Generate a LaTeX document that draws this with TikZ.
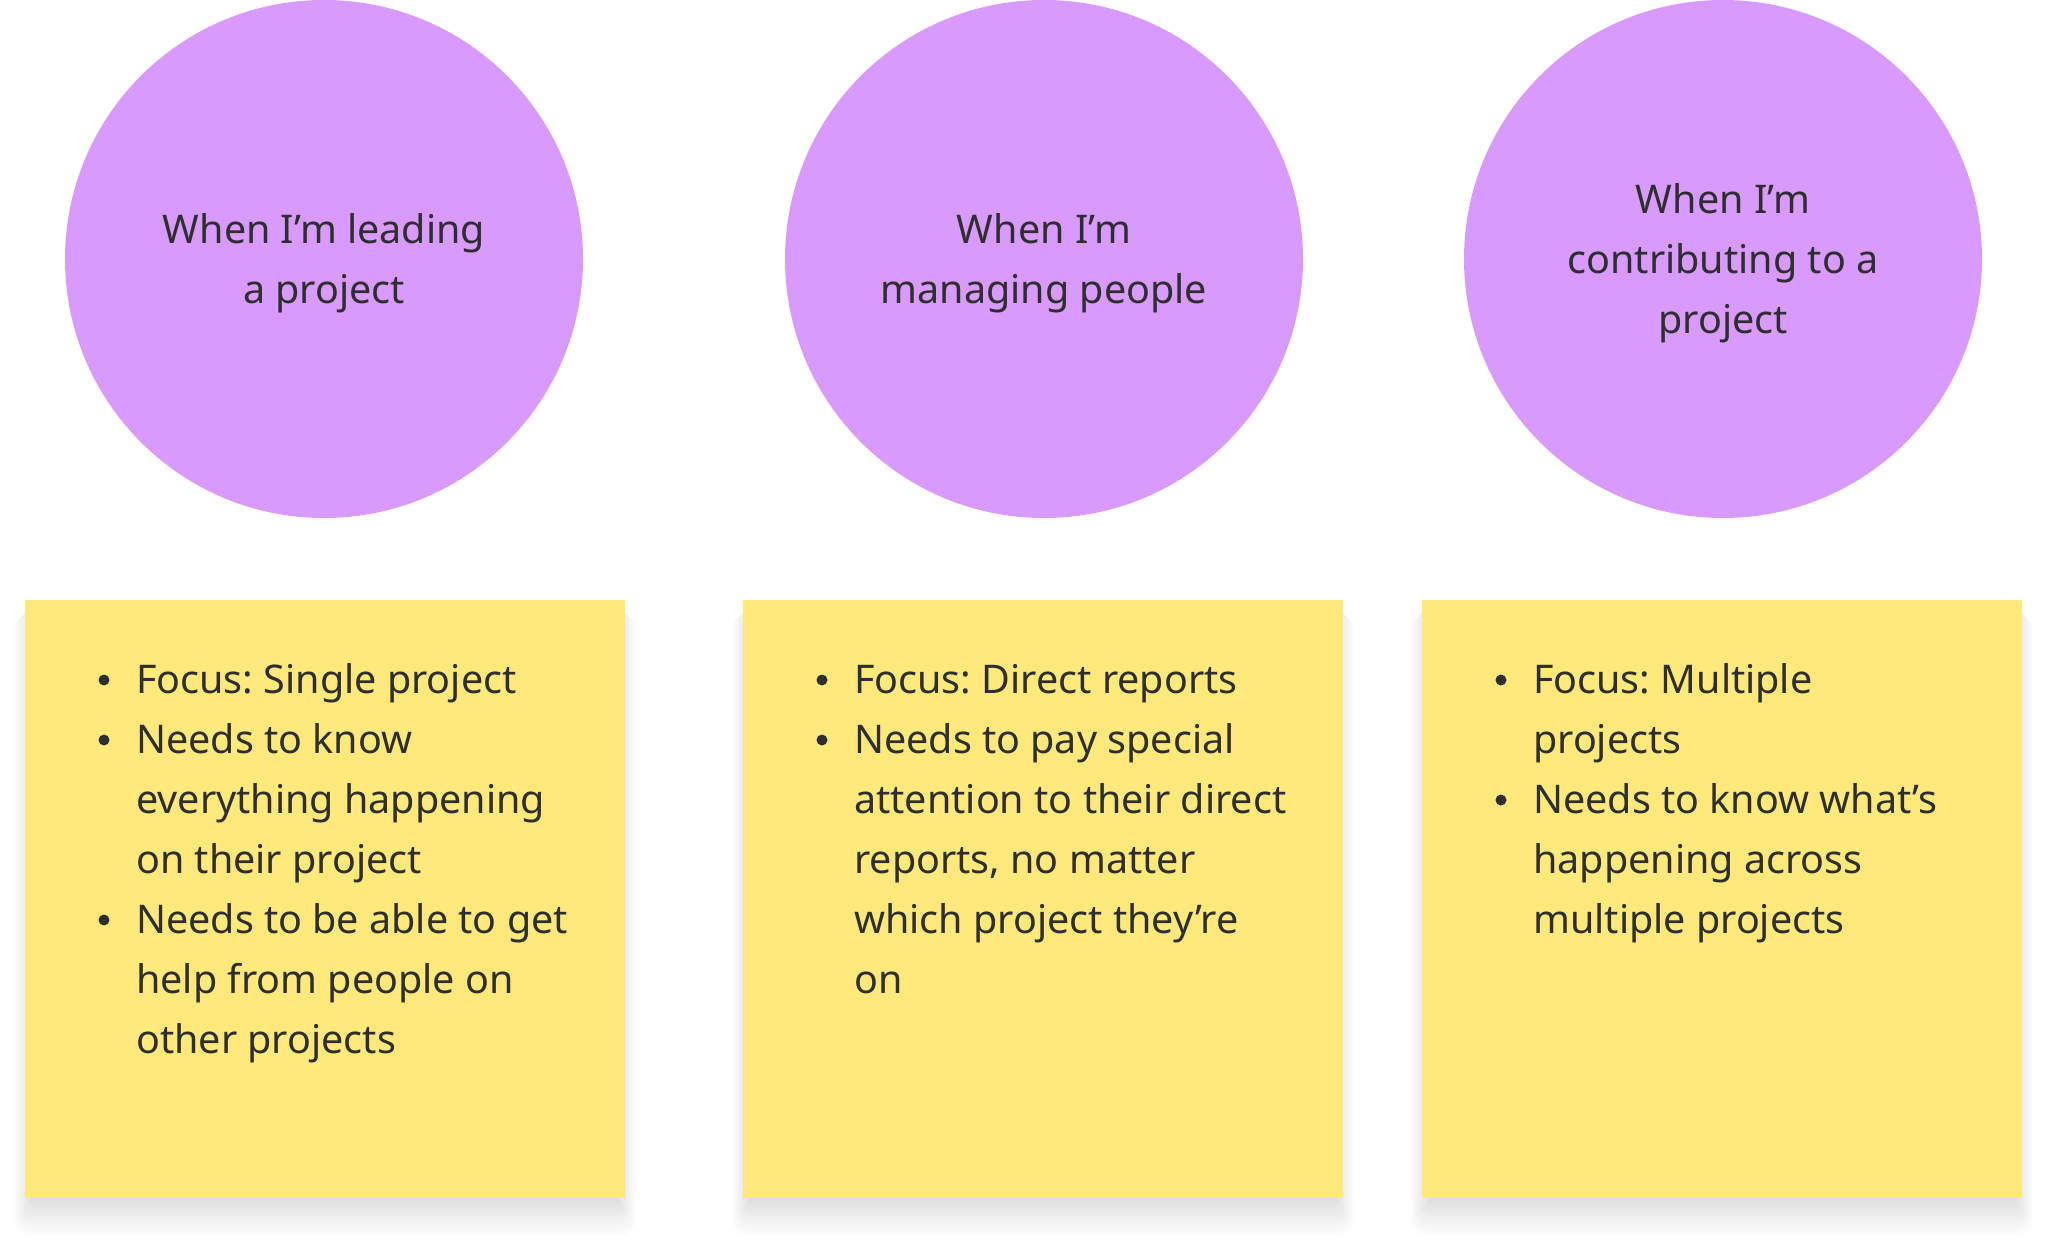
\documentclass[tikz,border=0pt]{standalone}
\usepackage{fontspec}
\setmainfont{Noto Sans}
\frenchspacing
\definecolor{violetc}{HTML}{D99AFE}
\definecolor{stickyc}{HTML}{FFE97B}
\definecolor{inkc}{HTML}{2E2E2E}
\begin{document}
\begin{tikzpicture}[x=1pt,y=-1pt,
  circ/.style={circle,fill=violetc,minimum size=518pt,inner sep=0pt},
  sticky/.style={fill=stickyc,minimum width=600pt,minimum height=598pt,inner sep=0pt,anchor=north west},
  txt/.style={font=\fontsize{39.5}{60}\selectfont\frenchspacing,text=inkc,inner sep=0pt},
  ln/.style={txt,anchor=base west},
  cl/.style={txt,anchor=base},
  dot/.style={circle,fill=inkc,minimum size=11pt,inner sep=0pt}]
\useasboundingbox (0,0) rectangle (2048,1244);
\fill[white] (0,0) rectangle (2048,1244);
% circles
\node[circ] (c1) at (324,259) {};
\node[circ] (c2) at (1044,259) {};
\node[circ] (c3) at (1723,259) {};
\node[cl] (c1a) at (324,243) {When I’m leading};
\node[cl] (c1b) at (324,303) {a project};
\node[cl] (c2a) at (1044,243) {When I’m};
\node[cl] (c2b) at (1044,303) {managing people};
\node[cl] (c3a) at (1723,213) {When I’m};
\node[cl] (c3b) at (1723,273) {contributing to a};
\node[cl] (c3c) at (1723,333) {project};
% shadows
\foreach \bx in {25,743,1422}{
  \foreach \i in {1,...,16}{
    \fill[black,opacity=0.008,rounded corners=\i pt] (\bx-1.2*\i+8,600+\i*0.5+6) rectangle (\bx+600+1.2*\i-8,1198+2.4*\i);
  }
}
% stickies
\node[sticky] (s1) at (25,600) {};
\node[sticky] (s2) at (743,600) {};
\node[sticky] (s3) at (1422,600) {};
% box 1
\node[dot] (b11) at (104,680) {};
\node[dot] (b12) at (104,740) {};
\node[dot] (b13) at (104,920) {};
\node[ln] (t10) at (136,693) {Focus: Single project};
\node[ln] (t11) at (136,753) {Needs to know};
\node[ln] (t12) at (136,813) {everything happening};
\node[ln] (t13) at (136,873) {on their project};
\node[ln] (t14) at (136,933) {Needs to be able to get};
\node[ln] (t15) at (136,993) {help from people on};
\node[ln] (t16) at (136,1053) {other projects};
% box 2
\node[dot] (b21) at (822,680) {};
\node[dot] (b22) at (822,740) {};
\node[ln] (t20) at (854,693) {Focus: Direct reports};
\node[ln] (t21) at (854,753) {Needs to pay special};
\node[ln] (t22) at (854,813) {attention to their direct};
\node[ln] (t23) at (854,873) {reports, no matter};
\node[ln] (t24) at (854,933) {which project they’re};
\node[ln] (t25) at (854,993) {on};
% box 3
\node[dot] (b31) at (1501,680) {};
\node[dot] (b32) at (1501,800) {};
\node[ln] (t30) at (1533,693) {Focus: Multiple};
\node[ln] (t31) at (1533,753) {projects};
\node[ln] (t32) at (1533,813) {Needs to know what’s};
\node[ln] (t33) at (1533,873) {happening across};
\node[ln] (t34) at (1533,933) {multiple projects};
\end{tikzpicture}
\end{document}
